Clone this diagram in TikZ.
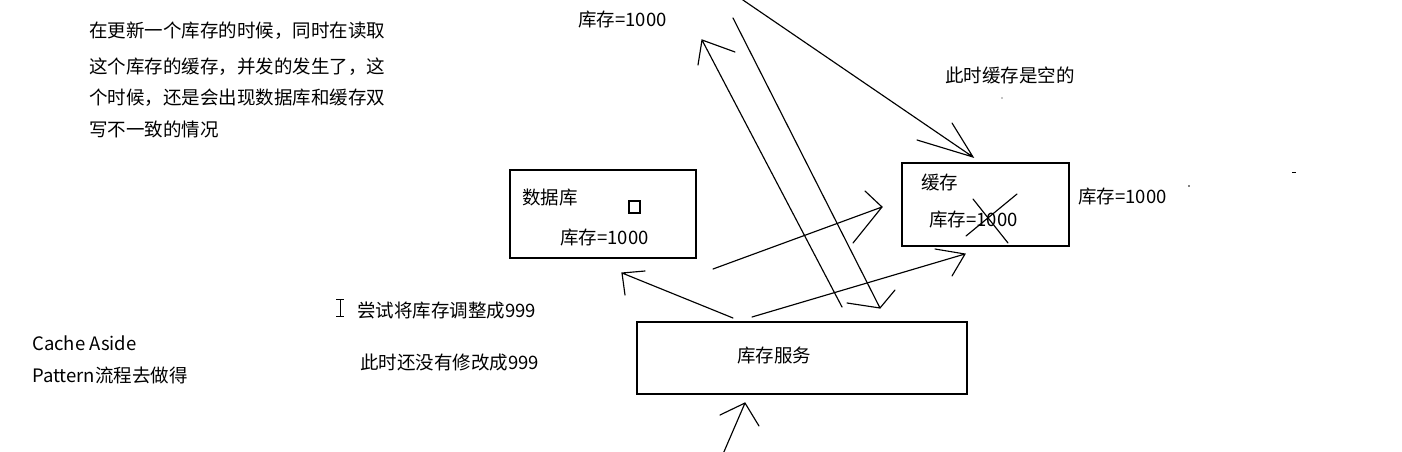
\documentclass[tikz,border=0pt]{standalone}
\usepackage{fontspec}
\setmainfont{Noto Sans CJK SC}
\begin{document}
\begin{tikzpicture}[x=1pt,y=-1pt,
  box/.style={draw,line width=1.4pt,inner sep=0pt},
  txt/.style={anchor=west,inner sep=0pt,font=\fontsize{18.5}{21}\selectfont},
  stroke/.style={line width=1.15pt,line cap=round}]
\useasboundingbox (0,0) rectangle (1402,452);
% boxes
\draw[box] (510,170) rectangle (696,258);
\node[inner sep=0pt] (db) at (603,214) {};
\draw[box] (902,163) rectangle (1069,246);
\node[inner sep=0pt] (cache) at (985,204) {};
\draw[box] (637,322) rectangle (967,394);
\node[inner sep=0pt] (svc) at (802,358) {};
\draw[line width=1.1pt] (629,201) rectangle (640,213);
% texts
\node[txt] (p1) at (89,31) {在更新一个库存的时候，同时在读取};
\node[txt] (p2) at (89,67) {这个库存的缓存，并发的发生了，这};
\node[txt] (p3) at (89,98) {个时候，还是会出现数据库和缓存双};
\node[txt] (p4) at (89,129) {写不一致的情况};
\node[txt] (t1) at (578,20) {库存=1000};
\node[txt] (t2) at (945,75) {此时缓存是空的};
\node[txt] (t3) at (921,182) {缓存};
\node[txt] (t4) at (929,220) {库存=1000};
\node[txt] (t5) at (1078,197) {库存=1000};
\node[txt] (t6) at (522,198) {数据库};
\node[txt] (t7) at (560,238) {库存=1000};
\node[txt] (t8) at (357,311) {尝试将库存调整成999};
\node[txt] (t9) at (360,363) {此时还没有修改成999};
\node[txt] (t10) at (737,356) {库存服务};
\node[txt] (t11) at (32,343) {Cache Aside};
\node[txt] (t12) at (32,375) {Pattern流程去做得};
% cross over 1000
\draw[stroke] (973,199) -- (1008,243);
\draw[stroke] (1017,194) -- (966,236);
% cursor I-beam
\draw[line width=1pt] (340,299) -- (340,316) (336,299) -- (344,299) (336,316) -- (344,316);
% specks
\fill (1189,186) circle (0.9);
\fill (1002,98) circle (0.6);
\draw[line width=1pt] (1292,172) -- (1296,172);
% arrows: named coordinates
\coordinate (a1s) at (740,-2); \coordinate (a1t) at (973,157);
\draw[stroke] (a1s) -- (a1t) (917,140) -- (a1t) -- (952,123);
\coordinate (a2s) at (842,307); \coordinate (a2t) at (702,40);
\draw[stroke] (a2s) -- (a2t) (698,65) -- (a2t) -- (735,52);
\coordinate (a3s) at (733,18); \coordinate (a3t) at (880,308);
\draw[stroke] (a3s) -- (a3t) (847,303) -- (a3t) -- (895,290);
\coordinate (a4s) at (713,269); \coordinate (a4t) at (882,207);
\draw[stroke] (a4s) -- (a4t) (865,191) -- (a4t) -- (853,243);
\coordinate (a5s) at (733,318); \coordinate (a5t) at (622,273);
\draw[stroke] (a5s) -- (a5t) (645,271) -- (a5t) -- (625,295);
\coordinate (a6s) at (752,317); \coordinate (a6t) at (965,254);
\draw[stroke] (a6s) -- (a6t) (935,249) -- (a6t) -- (952,276);
\coordinate (a7s) at (723,454); \coordinate (a7t) at (745,403);
\draw[stroke] (a7s) -- (a7t) (720,415) -- (a7t) -- (759,426);
\end{tikzpicture}
\end{document}
